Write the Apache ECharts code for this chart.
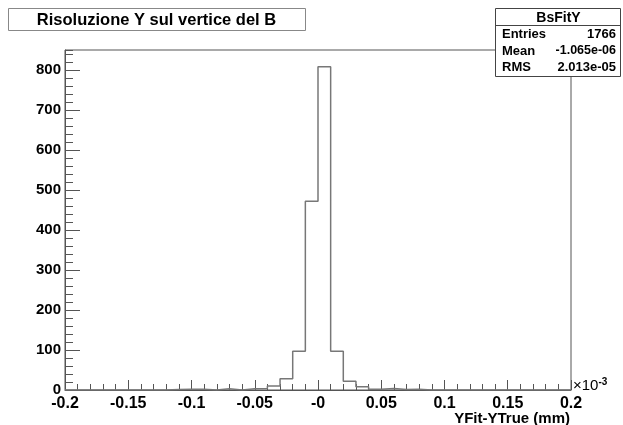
<!DOCTYPE html>
<html>
<head>
<meta charset="utf-8">
<script src="https://cdn.jsdelivr.net/npm/echarts@6/dist/echarts.min.js"></script>
<style>
  html, body { margin: 0; padding: 0; background: #fff; }
  #c { width: 623px; height: 425px; }
</style>
</head>
<body>
<div id="c"></div>
<script>
// Histogram of the B vertex Y resolution (x in units of 1e-3 mm)
const histName = 'BsFitY';
const histTitle = 'Risoluzione Y sul vertice del B';
const axisTitle = 'YFit-YTrue (mm)';
const xLow = -0.2;
const xHigh = 0.2;
const binCounts = [
  0, 0, 0, 0, 0, 0, 0, 0, 1, 2,
  2, 0, 3, 0, 3, 4, 10, 28, 97, 472,
  808, 97, 22, 8, 2, 4, 1, 2, 0, 0,
  0, 0, 0, 0, 0, 0, 0, 0, 0, 0
];
const xTickLabels = ['-0.2', '-0.15', '-0.1', '-0.05', '-0', '0.05', '0.1', '0.15', '0.2'];
const statNames = ['Entries', 'Mean', 'RMS'];
const statValues = ['1766', '-1.065e-06', '2.013e-05'];

const FONT = '"Liberation Sans", Arial, Helvetica, sans-serif';
const NARROW = '"Liberation Sans Narrow", "Liberation Sans", Arial, sans-serif';
const AXIS_COLOR = '#555';

// step outline: one point per bin left edge, plus the closing right edge
const binWidth = (xHigh - xLow) / binCounts.length;
const outline = binCounts.map((c, i) => [xLow + i * binWidth, c]);
outline.push([xHigh, binCounts[binCounts.length - 1]]);

const chart = echarts.init(document.getElementById('c'), null, { renderer: 'canvas' });

const statRows = [];
statNames.forEach((n, i) => {
  const y = 34.5 + i * 16.5;
  // the longest value line is set in a condensed face so it fits the box
  const valueFont = statValues[i].length > 9 ? 'bold 12.5px ' + NARROW : 'bold 13px ' + FONT;
  statRows.push({
    type: 'text', z: 101, x: 502, y: y,
    style: { text: n, font: 'bold 13px ' + FONT, fill: '#000', textVerticalAlign: 'middle', textAlign: 'left' }
  });
  statRows.push({
    type: 'text', z: 101, x: 616, y: y,
    style: { text: statValues[i], font: valueFont, fill: '#000', textVerticalAlign: 'middle', textAlign: 'right' }
  });
});

chart.setOption({
  animation: false,
  backgroundColor: '#fff',
  grid: {
    left: 65, top: 50, width: 506, height: 340,
    show: true, borderColor: AXIS_COLOR, borderWidth: 1, backgroundColor: 'transparent'
  },
  xAxis: {
    type: 'value', min: xLow, max: xHigh, interval: 0.05,
    axisLine: { show: true, onZero: false, lineStyle: { color: AXIS_COLOR, width: 1 } },
    axisTick: { show: true, inside: true, length: 10, lineStyle: { color: AXIS_COLOR } },
    minorTick: { show: true, splitNumber: 5, length: 6, lineStyle: { color: AXIS_COLOR } },
    splitLine: { show: false },
    axisLabel: {
      margin: 6, color: '#000', fontFamily: FONT, fontWeight: 'bold', fontSize: 16,
      formatter: v => xTickLabels[Math.round((v - xLow) / 0.05)]
    }
  },
  yAxis: [
    {
      type: 'value', position: 'left', min: 0, max: 850, interval: 100,
      axisLine: { show: true, onZero: false, lineStyle: { color: AXIS_COLOR, width: 1 } },
      axisTick: { show: true, inside: true, length: 15, lineStyle: { color: AXIS_COLOR } },
      splitLine: { show: false },
      axisLabel: {
        margin: 4, color: '#000', fontFamily: FONT, fontWeight: 'bold', fontSize: 15,
        showMaxLabel: false
      }
    },
    {
      type: 'value', position: 'left', min: 0, max: 850, interval: 20,
      axisLine: { show: false, onZero: false },
      axisTick: { show: true, inside: true, length: 8, lineStyle: { color: AXIS_COLOR } },
      splitLine: { show: false },
      axisLabel: { show: false }
    }
  ],
  series: [{
    type: 'line', name: histName, data: outline, step: 'end',
    xAxisIndex: 0, yAxisIndex: 0, symbol: 'none', clip: true,
    lineStyle: { color: '#777', width: 1.5 }
  }],
  graphic: [
    // title pave
    {
      type: 'rect', z: 100, shape: { x: 8.5, y: 8.5, width: 297, height: 22 },
      style: { fill: '#fff', stroke: '#888', lineWidth: 1 }
    },
    {
      type: 'text', z: 101, x: 156.5, y: 20,
      style: { text: histTitle, font: 'bold 16.5px ' + FONT, fill: '#000', textAlign: 'center', textVerticalAlign: 'middle' }
    },
    // statistics box
    {
      type: 'rect', z: 100, shape: { x: 495.5, y: 8.5, width: 125, height: 68 },
      style: { fill: '#fff', stroke: '#444', lineWidth: 1 }
    },
    {
      type: 'line', z: 101, shape: { x1: 495.5, y1: 25.5, x2: 620.5, y2: 25.5 },
      style: { stroke: '#444', lineWidth: 1 }
    },
    {
      type: 'text', z: 101, x: 558.5, y: 18,
      style: { text: histName, font: 'bold 14px ' + FONT, fill: '#000', textAlign: 'center', textVerticalAlign: 'middle' }
    },
    ...statRows,
    // axis title and exponent
    {
      type: 'text', z: 101, x: 570, y: 419,
      style: { text: axisTitle, font: 'bold 15px ' + FONT, fill: '#000', textAlign: 'right', textVerticalAlign: 'middle' }
    },
    {
      type: 'text', z: 101, x: 573, y: 386,
      style: {
        text: '{b|\u00d710}{s|-3}',
        textVerticalAlign: 'middle',
        rich: {
          b: { font: '15px ' + FONT, fill: '#000' },
          s: { font: 'bold 10px ' + FONT, fill: '#000', verticalAlign: 'top', padding: [0, 0, 7, 0] }
        }
      }
    }
  ]
});
</script>
</body>
</html>
